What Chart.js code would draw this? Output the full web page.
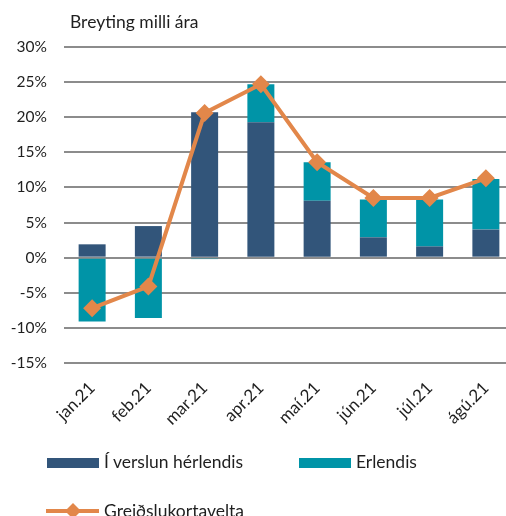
<!DOCTYPE html>
<html>
<head>
<meta charset="utf-8">
<script src="https://cdn.jsdelivr.net/npm/chart.js@4.4.0/dist/chart.umd.min.js"></script>
<style>
  html, body { margin:0; padding:0; background:#fff; width:506px; height:516px; overflow:hidden; }
  #wrap { position:relative; width:506px; height:516px; overflow:hidden; font-family: Lato, "Open Sans", sans-serif; color:#1f1f1f; }
  #c { position:absolute; left:0; top:0; }
  .title { position:absolute; left:70px; top:10.5px; font-size:17.5px; line-height:21px; white-space:nowrap; }
  .leg { position:absolute; font-size:17.5px; line-height:21px; white-space:nowrap; }
  .sw { position:absolute; width:52px; height:10px; }
</style>
</head>
<body>
<div id="wrap">
  <canvas id="c" width="523" height="516"></canvas>
  <div class="title">Breyting milli ára</div>
  <div id="legend"></div>
</div>
<script>
const categories = ['jan.21','feb.21','mar.21','apr.21','maí.21','jún.21','júl.21','ágú.21'];
const domestic = [1.9, 4.5, 20.7, 19.3, 8.1, 2.9, 1.6, 4.0];
const abroad = [-9.1, -8.6, -0.2, 5.4, 5.5, 5.4, 6.7, 7.2];
const total = [-7.2, -4.1, 20.6, 24.7, 13.6, 8.5, 8.5, 11.3];
const seriesNames = ['Í verslun hérlendis', 'Erlendis', 'Greiðslukortavelta'];
const yTicks = { min: -15, max: 30, step: 5 };

const colDom = '#32557A', colAbr = '#0094A7', colTot = '#E2874A';
const FONT = 'Lato, "Open Sans", sans-serif';

new Chart(document.getElementById('c'), {
  data: {
    labels: categories,
    datasets: [
      { type:'line', label: seriesNames[2], data: total, borderColor: colTot, backgroundColor: colTot,
        borderWidth: 4, pointStyle:'rectRot', pointRadius: 9, pointHoverRadius: 9,
        pointBackgroundColor: colTot, pointBorderColor: colTot, pointBorderWidth: 0,
        stack:'line', order:0, tension:0 },
      { type:'bar', label: seriesNames[0], data: domestic, backgroundColor: colDom, stack:'bars', order:1,
        categoryPercentage:1, barPercentage:0.48 },
      { type:'bar', label: seriesNames[1], data: abroad, backgroundColor: colAbr, stack:'bars', order:1,
        categoryPercentage:1, barPercentage:0.48 }
    ]
  },
  options: {
    responsive:false, animation:false, devicePixelRatio:1,
    layout: { padding: { top: 47, left: 0, right: 0, bottom: 73 } },
    plugins: { legend:{ display:false }, tooltip:{ enabled:false }, title:{ display:false } },
    scales: {
      x: {
        stacked: true, offset: true,
        grid: { display:false }, border: { display:false },
        ticks: { color:'#1f1f1f', font:{ family: FONT, size:17 }, maxRotation:45, minRotation:45, padding:7, autoSkip:false },
        afterFit: s => { s.height = 80; }
      },
      y: {
        stacked: true, min: yTicks.min, max: yTicks.max,
        grid: { color:'#8c8c8c', lineWidth:2, drawTicks:false },
        border: { display:false },
        ticks: { stepSize: yTicks.step, color:'#1f1f1f', font:{ family: FONT, size:15.5 }, padding:17,
                 callback: v => v + '%' },
        afterFit: s => { s.width = 64; }
      }
    }
  }
});

// legend
const lg = document.getElementById('legend');
lg.innerHTML =
  '<div class="sw" style="left:47px;top:458px;background:' + colDom + '"></div>' +
  '<div class="leg" style="left:104px;top:451px">' + seriesNames[0] + '</div>' +
  '<div class="sw" style="left:299px;top:458px;background:' + colAbr + '"></div>' +
  '<div class="leg" style="left:356px;top:451px">' + seriesNames[1] + '</div>' +
  '<svg style="position:absolute;left:40px;top:499px" width="64" height="24"><line x1="6" y1="12" x2="59" y2="12" stroke="' + colTot + '" stroke-width="4"/>' +
  '<polygon points="33,4 41,12 33,20 25,12" fill="' + colTot + '"/></svg>' +
  '<div class="leg" style="left:104px;top:500px">' + seriesNames[2] + '</div>';
</script>
</body>
</html>
